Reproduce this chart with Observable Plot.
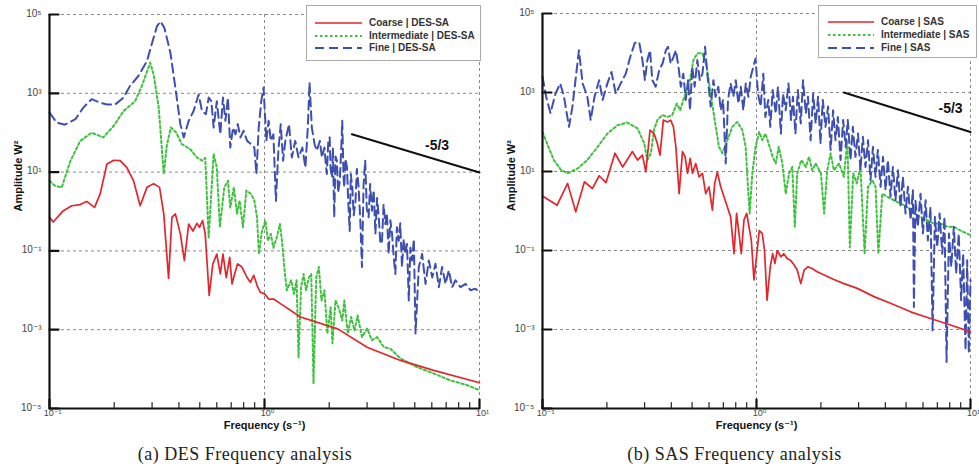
<!DOCTYPE html>
<html><head><meta charset="utf-8">
<script src="https://cdn.jsdelivr.net/npm/d3@7"></script>
<script src="https://cdn.jsdelivr.net/npm/@observablehq/plot@0.6"></script>
<style>
body{margin:0;background:#fff;}
#wrap{display:flex;width:979px;}
.panel{position:relative;}
.cap{font-family:"Liberation Serif","Times New Roman",serif;font-size:18px;letter-spacing:0.5px;text-align:center;color:#222;height:30px;line-height:30px;padding-top:2px;}
.legend{position:absolute;border:1px solid #aaa;background:#fff;font-family:"Liberation Sans",Arial,sans-serif;font-weight:bold;font-size:10px;color:#333;box-sizing:border-box;}
.legend .row{position:absolute;white-space:nowrap;}
.legend svg{position:absolute;overflow:visible;}
</style></head><body>
<div id="wrap"><div class="panel" id="pa"></div><div class="panel" id="pb"></div></div>
<script>
// ---------- data (frequency s^-1, amplitude W^2) ----------
const desCoarse = [[0.1,0.71],[0.104,0.54],[0.116,1.05],[0.127,1.4],[0.139,1.5],[0.149,1.8],[0.162,1.27],[0.172,2.8],[0.185,16],[0.199,20],[0.213,19.5],[0.229,13],[0.246,6],[0.264,1.4],[0.284,4.1],[0.305,5.1],[0.325,4.1],[0.34,0.87],[0.358,0.02],[0.371,0.71],[0.385,0.87],[0.406,0.27],[0.424,0.057],[0.444,0.48],[0.465,0.32],[0.485,0.5],[0.499,0.4],[0.515,0.59],[0.53,0.27],[0.553,0.0074],[0.575,0.047],[0.6,0.083],[0.623,0.026],[0.641,0.083],[0.664,0.021],[0.689,0.069],[0.706,0.0145],[0.726,0.026],[0.75,0.047],[0.785,0.039],[0.83,0.021],[0.859,0.016],[0.891,0.024],[0.93,0.012],[0.957,0.0089],[1.0,0.0081],[1.046,0.006],[1.104,0.006],[1.186,0.0046],[1.47,0.0021],[2.19,0.00105],[3.0,0.00036],[4.29,0.000166],[6.12,9.3e-5],[10,4.5e-5]];
const desInter = [[0.1,6],[0.106,4.5],[0.114,4.1],[0.125,19],[0.139,62],[0.157,100],[0.178,76],[0.199,150],[0.221,355],[0.25,630],[0.269,1550],[0.294,6000],[0.305,3000],[0.322,440],[0.34,9],[0.352,51],[0.367,135],[0.389,100],[0.413,51],[0.452,38],[0.485,23.5],[0.512,19.5],[0.53,23],[0.55,0.22],[0.58,29],[0.6,13],[0.62,0.4],[0.65,4.1],[0.676,6],[0.693,1.26],[0.72,4.1],[0.745,0.87],[0.766,1.9],[0.794,0.4],[0.823,3.4],[0.865,2.8],[0.897,1.9],[0.923,0.71],[0.942,0.083],[0.973,0.32],[1.01,0.59],[1.038,0.18],[1.07,0.27],[1.1,0.12],[1.14,0.22],[1.18,0.48],[1.21,0.15],[1.24,0.032],[1.27,0.01],[1.33,0.018],[1.37,0.0081],[1.41,0.018],[1.44,0.0002],[1.48,0.012],[1.52,0.026],[1.56,0.01],[1.61,0.021],[1.65,0.026],[1.69,4.3e-5],[1.74,0.021],[1.79,0.039],[1.84,0.0055],[1.9,0.01],[1.96,0.0008],[2.03,0.0037],[2.07,0.00045],[2.14,0.0055],[2.21,0.0037],[2.3,0.0017],[2.35,0.0055],[2.44,0.0008],[2.53,0.0021],[2.62,0.00095],[2.71,0.0023],[2.84,0.00065],[3.0,0.00107],[3.16,0.00054],[3.34,0.00065],[3.59,0.00036],[3.85,0.00033],[4.29,0.000186],[5.13,0.000112],[6.1,7.8e-5],[7.3,5.2e-5],[8.77,3.9e-5],[10,2.9e-5]];
const desFine = [[0.1,325],[0.108,180],[0.118,160],[0.132,220],[0.144,440],[0.157,710],[0.172,580],[0.185,520],[0.202,520],[0.221,780],[0.237,1550],[0.259,2750],[0.284,6600],[0.303,23000],[0.316,50000],[0.328,67000],[0.342,46000],[0.365,10700],[0.385,1400],[0.406,165],[0.421,76],[0.444,200],[0.468,355],[0.494,930],[0.512,355],[0.534,295],[0.55,780],[0.566,630],[0.58,135],[0.6,630],[0.623,91],[0.641,780],[0.658,200],[0.676,780],[0.693,42],[0.714,135],[0.733,91],[0.751,165],[0.773,76],[0.8,112],[0.83,62],[0.866,51],[0.897,42],[0.917,9],[0.94,135],[0.966,630],[0.99,1400],[1.02,62],[1.045,200],[1.07,62],[1.1,91],[1.13,1.86],[1.16,35],[1.19,165],[1.22,19.5],[1.25,62],[1.3,165],[1.34,23.5],[1.39,62],[1.44,23.5],[1.5,42],[1.55,13],[1.59,135],[1.62,1870],[1.66,135],[1.71,51],[1.75,35],[1.81,62],[1.85,23.5],[1.9,42],[1.93,15],[1.95,9],[1.98,60],[2.01,76],[2.03,12],[2.06,7.3],[2.08,40],[2.11,0.71],[2.14,25],[2.17,19.5],[2.2,3],[2.24,6],[2.27,30],[2.3,200],[2.33,8],[2.35,4.1],[2.38,22],[2.42,13],[2.45,2],[2.49,0.32],[2.52,9],[2.56,4.1],[2.6,0.8],[2.65,1.86],[2.69,12],[2.74,4.1],[2.79,0.6],[2.84,0.039],[2.89,5],[2.94,19.5],[2.99,1.2],[3.05,0.71],[3.1,5],[3.16,1.05],[3.22,3.5],[3.28,0.27],[3.34,2.2],[3.4,0.71],[3.46,0.15],[3.52,0.18],[3.58,1.5],[3.65,0.48],[3.71,0.9],[3.78,0.083],[3.85,0.6],[3.92,0.27],[3.99,0.07],[4.06,0.026],[4.13,0.4],[4.21,0.18],[4.28,0.5],[4.36,0.039],[4.44,0.2],[4.52,0.083],[4.6,0.15],[4.69,0.0055],[4.77,0.12],[4.86,0.057],[4.95,0.2],[5.04,0.0008],[5.22,0.039],[5.41,0.083],[5.61,0.0145],[5.81,0.057],[6.03,0.021],[6.24,0.047],[6.47,0.012],[6.7,0.039],[6.95,0.0145],[7.2,0.032],[7.46,0.012],[7.73,0.018],[8.16,0.012],[8.61,0.0145],[9.09,0.01],[9.57,0.011],[10,0.0089]];
const desSlope = [[2.55,91],[10,9.8]];
const desSlopeLabel = [[6.35,47]];

const sasCoarse = [[0.1,2.4],[0.117,1.4],[0.131,5],[0.143,0.95],[0.157,5.5],[0.171,3.7],[0.184,7.8],[0.198,5.2],[0.218,29],[0.237,13],[0.263,32],[0.278,19.5],[0.293,26],[0.304,9.8],[0.318,112],[0.332,91],[0.344,51],[0.354,26],[0.367,200],[0.384,180],[0.397,200],[0.409,135],[0.42,42],[0.435,2.75],[0.451,32],[0.464,23.5],[0.476,9],[0.49,21.5],[0.502,9],[0.52,16],[0.539,7.3],[0.559,9],[0.579,2.75],[0.6,4.1],[0.622,1.05],[0.638,5],[0.656,9.8],[0.68,4.1],[0.705,2.3],[0.731,1.26],[0.757,0.71],[0.785,0.083],[0.807,0.87],[0.828,0.27],[0.849,0.083],[0.874,0.59],[0.9,0.87],[0.922,0.4],[0.946,0.18],[0.973,0.018],[1.0,0.069],[1.03,0.32],[1.064,0.27],[1.09,0.1],[1.12,0.0055],[1.16,0.039],[1.19,0.083],[1.22,0.047],[1.25,0.1],[1.3,0.069],[1.34,0.083],[1.39,0.063],[1.44,0.057],[1.5,0.043],[1.55,0.032],[1.61,0.0145],[1.67,0.032],[1.74,0.039],[1.82,0.035],[1.92,0.029],[2.07,0.024],[2.3,0.0185],[2.56,0.0145],[2.96,0.011],[3.54,0.0068],[4.23,0.0046],[5.25,0.0028],[6.5,0.0019],[8.07,0.0013],[10,0.00087]];
const sasInter = [[0.1,100],[0.105,51],[0.113,19.5],[0.122,11],[0.131,9],[0.146,12],[0.162,19.5],[0.181,42],[0.201,91],[0.224,148],[0.249,174],[0.278,123],[0.299,51],[0.309,19.5],[0.321,29],[0.332,112],[0.344,200],[0.363,270],[0.384,240],[0.404,270],[0.424,525],[0.44,355],[0.455,650],[0.472,1150],[0.489,2050],[0.507,6600],[0.53,9800],[0.559,9800],[0.585,4470],[0.611,930],[0.638,200],[0.668,42],[0.692,29],[0.731,62],[0.771,135],[0.813,180],[0.859,112],[0.89,42],[0.912,4.1],[0.929,0.87],[0.956,9],[0.99,42],[1.03,100],[1.065,62],[1.1,91],[1.14,51],[1.19,23.5],[1.23,16],[1.27,42],[1.32,16],[1.37,2.75],[1.42,9],[1.47,13],[1.51,0.4],[1.55,9],[1.62,19.5],[1.7,13],[1.76,23.5],[1.82,10.7],[1.89,16],[2.0,9],[2.07,0.87],[2.14,10.7],[2.22,29],[2.3,10.7],[2.43,16],[2.56,7.3],[2.66,62],[2.73,0.12],[2.83,9],[2.94,5],[3.06,13],[3.2,0.083],[3.32,4.1],[3.48,6],[3.6,4.1],[3.71,0.083],[3.87,2.75],[4.08,2.3],[4.39,1.86],[4.71,1.55],[5.06,1.26],[5.44,0.87],[5.84,0.71],[6.28,0.59],[6.74,0.48],[7.25,0.48],[7.79,0.4],[8.36,0.4],[8.98,0.32],[10,0.245]];
const sasFine = [[0.1,2500],[0.104,780],[0.109,300],[0.115,930],[0.121,1700],[0.126,780],[0.133,135],[0.138,440],[0.145,4470],[0.148,11700],[0.154,1700],[0.162,780],[0.168,200],[0.175,780],[0.184,2050],[0.191,650],[0.201,1700],[0.21,3300],[0.22,930],[0.232,1700],[0.245,3000],[0.257,7900],[0.27,18000],[0.283,19000],[0.293,6600],[0.301,2050],[0.309,6600],[0.318,11700],[0.326,2050],[0.338,1400],[0.351,3700],[0.364,5400],[0.377,11700],[0.386,14400],[0.397,5400],[0.409,7900],[0.42,11700],[0.432,4470],[0.443,1400],[0.455,3000],[0.467,650],[0.479,2050],[0.489,355],[0.501,4470],[0.514,1400],[0.529,6600],[0.543,2050],[0.559,3000],[0.575,14400],[0.589,3000],[0.611,440],[0.629,2050],[0.644,780],[0.663,1400],[0.681,355],[0.698,650],[0.718,16],[0.736,650],[0.757,1700],[0.779,780],[0.8,2050],[0.823,525],[0.844,1400],[0.868,355],[0.891,1700],[0.917,780],[0.94,2500],[0.966,4470],[0.99,7200],[1.016,930],[1.045,440],[1.076,3000],[1.1,240],[1.135,650],[1.16,135],[1.19,1150],[1.23,295],[1.26,1400],[1.3,91],[1.33,930],[1.37,355],[1.41,1700],[1.45,200],[1.48,780],[1.52,91],[1.56,1150],[1.61,165],[1.65,2050],[1.7,295],[1.74,780],[1.79,62],[1.84,930],[1.89,165],[1.94,780],[1.99,51],[2.04,650],[2.1,135],[2.16,440],[2.22,35],[2.28,355],[2.34,62],[2.4,240],[2.47,19.5],[2.54,200],[2.61,42],[2.67,200],[2.75,19.5],[2.82,135],[2.9,23.5],[2.98,91],[3.06,10.7],[3.14,76],[3.23,13],[3.32,62],[3.41,6],[3.5,42],[3.6,7.3],[3.69,35],[3.8,4.1],[3.9,23.5],[4.01,3.4],[4.11,19.5],[4.23,2.3],[4.34,13],[4.46,1.86],[4.58,10.7],[4.71,1.26],[4.83,7.3],[4.97,0.87],[5.1,4.1],[5.25,0.59],[5.38,3.4],[5.44,0.0037],[5.53,1.86],[5.67,0.4],[5.84,2.75],[5.99,0.27],[6.17,1.86],[6.32,0.18],[6.5,1.26],[6.65,0.00095],[6.82,0.71],[6.99,0.12],[7.17,0.87],[7.38,0.083],[7.56,0.71],[7.73,0.00015],[7.93,0.27],[8.13,0.039],[8.36,0.4],[8.57,0.026],[8.81,0.27],[9.04,0.0055],[9.24,0.083],[9.48,0.0003],[9.65,0.057],[9.82,0.00025],[10,0.018]];
const sasSlope = [[2.56,1000],[10,100]];
const sasSlopeLabel = [[8.07,400]];

const slopeText = "-5/3";
const desNames = ["Coarse | DES-SA", "Intermediate | DES-SA", "Fine | DES-SA"];
const sasNames = ["Coarse | SAS", "Intermediate | SAS", "Fine | SAS"];
const captions = ["(a) DES Frequency analysis", "(b) SAS Frequency analysis"];
const xLabel = "Frequency (s\u207B\u00B9)";
const yLabel = "Amplitude W\u00B2";

const xDomain = [0.1, 10];
const yDomain = [1e-5, 1e5];
const yTicks = [1e5, 1e3, 1e1, 1e-1, 1e-3, 1e-5];
const yGrid = [1e5, 1e3, 1e1, 1e-1, 1e-3];
const xMajor = [0.1, 1, 10];
const xGrid = [1, 10];
const xMinor = [0.2,0.3,0.4,0.5,0.6,0.7,0.8,0.9,2,3,4,5,6,7,8,9];

// ---------- styles ----------
const styles = [
  {stroke: "#e3262b", strokeWidth: 1.7, dash: null},
  {stroke: "#3dc23d", strokeWidth: 2, dash: "2.5,2.5"},
  {stroke: "#3e4fb2", strokeWidth: 2, dash: "9,5"}
];
const supMap = {"-":"\u207B","0":"\u2070","1":"\u00B9","2":"\u00B2","3":"\u00B3","4":"\u2074","5":"\u2075","6":"\u2076","7":"\u2077","8":"\u2078","9":"\u2079"};
const fmt = d => "10" + String(Math.round(Math.log10(d))).split("").map(c => supMap[c]).join("");
const tickShape = {draw(ctx, l) { ctx.moveTo(0, 0); ctx.lineTo(0, -l); }};
const fx = d => d[0], fy = d => d[1];

function panel(el, series, slope, slopeLabel, names, caption, geo) {
  const [coarse, inter, fine] = series;
  const lineOpts = (s) => ({x: fx, y: fy, stroke: s.stroke, strokeWidth: s.strokeWidth, strokeDasharray: s.dash, strokeLinejoin: "round", curve: "linear"});
  const chart = Plot.plot({
    width: geo.width, height: 437,
    marginLeft: geo.ml, marginRight: geo.mr, marginTop: geo.mt, marginBottom: 437 - 408,
    x: {type: "log", domain: xDomain},
    y: {type: "log", domain: yDomain},
    style: {fontFamily: "'Liberation Sans', 'DejaVu Sans', Arial, sans-serif", fontSize: "10px", background: "#fff", overflow: "visible"},
    marks: [
      Plot.gridY(yGrid, {stroke: "#8a8a8a", strokeOpacity: 1, strokeDasharray: "3,3"}),
      Plot.gridX(xGrid, {stroke: "#8a8a8a", strokeOpacity: 1, strokeDasharray: "3,3"}),
      Plot.line(inter, lineOpts(styles[1])),
      Plot.line(fine, lineOpts(styles[2])),
      Plot.line(coarse, lineOpts(styles[0])),
      Plot.line(slope, {x: fx, y: fy, stroke: "#111", strokeWidth: 2}),
      Plot.text(slopeLabel, {x: fx, y: fy, text: () => slopeText, fontWeight: "bold", fontSize: 14, fill: "#111"}),
      Plot.ruleX([xDomain[0]], {stroke: "#111", strokeWidth: 2.2}),
      Plot.ruleY([yDomain[0]], {stroke: "#111", strokeWidth: 2.2}),
      Plot.vector(yTicks, {y: d => d, frameAnchor: "left", rotate: 90, length: 9, anchor: "start", shape: tickShape, stroke: "#111", strokeWidth: 2.2}),
      Plot.vector(xMajor, {x: d => d, frameAnchor: "bottom", rotate: 0, length: 9, anchor: "start", shape: tickShape, stroke: "#111", strokeWidth: 2.2}),
      Plot.vector(xMinor, {x: d => d, frameAnchor: "bottom", rotate: 0, length: 6, anchor: "start", shape: tickShape, stroke: "#222", strokeWidth: 1.2}),
      Plot.axisY(yTicks, {tickSize: 0, tickPadding: 8, tickFormat: fmt, label: null, fill: "#444", dy: -1}),
      Plot.axisX(xMajor, {tickSize: 0, tickPadding: 1, tickFormat: fmt, label: null, fill: "#444", fontSize: 9, dx: 3}),
      Plot.text([yLabel], {text: d => d, frameAnchor: "left", dx: -31, rotate: -90, fontWeight: "bold", fontSize: 11, fill: "#111"}),
      Plot.text([xLabel], {text: d => d, frameAnchor: "bottom", dy: 20, fontWeight: "bold", fontSize: 11, fill: "#111"})
    ]
  });
  el.style.width = geo.width + "px";
  el.appendChild(chart);
  // legend
  const lg = document.createElement("div");
  lg.className = "legend";
  Object.assign(lg.style, {left: geo.lg.left + "px", top: geo.lg.top + "px", width: geo.lg.w + "px", height: geo.lg.h + "px"});
  names.forEach((name, i) => {
    const s = styles[i];
    const cy = geo.lg.rows[i];
    const svg = document.createElementNS("http://www.w3.org/2000/svg", "svg");
    svg.setAttribute("width", 50); svg.setAttribute("height", 6);
    svg.style.left = geo.lg.s0 + "px"; svg.style.top = (cy - 3) + "px";
    const ln = document.createElementNS("http://www.w3.org/2000/svg", "line");
    ln.setAttribute("x1", 0); ln.setAttribute("x2", geo.lg.s1 - geo.lg.s0);
    ln.setAttribute("y1", 3); ln.setAttribute("y2", 3);
    ln.setAttribute("stroke", s.stroke); ln.setAttribute("stroke-width", s.strokeWidth);
    if (s.dash) ln.setAttribute("stroke-dasharray", s.dash);
    svg.appendChild(ln);
    lg.appendChild(svg);
    const t = document.createElement("div");
    t.className = "row"; t.textContent = name;
    t.style.left = geo.lg.tx + "px"; t.style.top = (cy - 7) + "px"; t.style.lineHeight = "14px";
    lg.appendChild(t);
  });
  el.appendChild(lg);
  const cap = document.createElement("div");
  cap.className = "cap"; cap.textContent = caption;
  el.appendChild(cap);
}

panel(document.getElementById("pa"), [desCoarse, desInter, desFine], desSlope, desSlopeLabel, desNames, captions[0],
  {width: 490, ml: 49, mr: 11, mt: 14, lg: {left: 306, top: 5, w: 175, h: 56, rows: [17, 30, 42], s0: 8, s1: 55, tx: 62}});
panel(document.getElementById("pb"), [sasCoarse, sasInter, sasFine], sasSlope, sasSlopeLabel, sasNames, captions[1],
  {width: 489, ml: 52, mr: 9, mt: 13, lg: {left: 328, top: 5, w: 159, h: 53, rows: [16, 29, 42], s0: 9, s1: 55, tx: 62}});
</script>
</body></html>
